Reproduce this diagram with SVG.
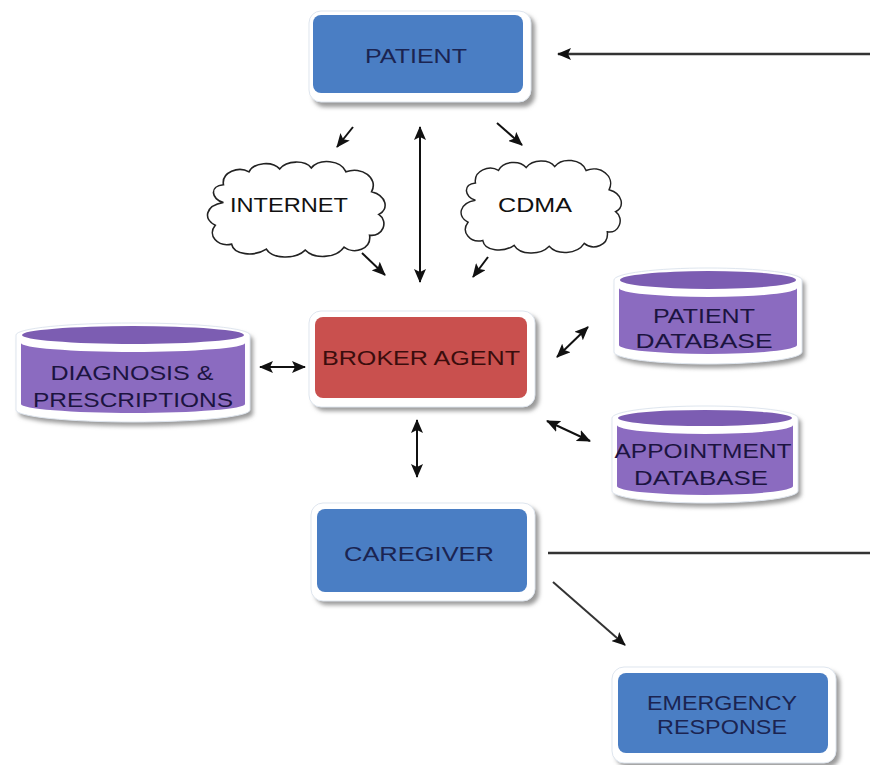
<svg xmlns="http://www.w3.org/2000/svg" width="870" height="765" viewBox="0 0 870 765">
<defs>
<style>
.sh{fill:#9a9a9a;filter:url(#blur)}
.rim{fill:#ffffff;stroke:#dfe6ef;stroke-width:1}
.blue{fill:#4a7ec4}
.red{fill:#c9504e}
.ptop{fill:#7c5db2}
.pbody{fill:#8b6bc0}
.t{font-family:"Liberation Sans",Arial,sans-serif;font-size:21px;text-anchor:middle}
.tb{fill:#1b2451}
.tr{fill:#3b0d0d}
.tp{fill:#1c1440}
.tc{fill:#111111}
.cloud{fill:#ffffff;stroke:#222;stroke-width:1.6}
.ln{stroke:#111;stroke-width:2;fill:none}
.one{marker-end:url(#ah)}
.two{marker-start:url(#ah);marker-end:url(#ah)}
</style>
<filter id="blur" x="-10%" y="-10%" width="120%" height="130%"><feGaussianBlur stdDeviation="2"/></filter>
<marker id="ah" viewBox="0 0 14 12" refX="13" refY="6" markerWidth="14" markerHeight="12" markerUnits="userSpaceOnUse" orient="auto-start-reverse">
<path d="M0,0 L14,6 L0,12 L3,6 Z" fill="#111"/>
</marker>
<path id="cloudshape" d="M20,45 C8,42 6,28 20,27 C18,14 35,8 45,14 C50,4 68,3 75,11 C82,2 100,2 106,10 C114,0 135,2 140,14 C155,8 172,20 165,34 C180,38 182,52 172,57 C182,64 176,80 163,78 C165,92 148,98 138,90 C130,102 108,102 100,93 C90,103 68,102 62,92 C50,100 30,98 28,87 C14,90 4,78 12,68 C0,62 2,48 20,45 Z"/>
</defs>
<rect width="870" height="765" fill="#ffffff"/>

<g id="connectors">
<line class="ln one" x1="870" y1="54" x2="558" y2="54" style="stroke:#333;stroke-width:2.5"/>
<line class="ln one" x1="353" y1="127" x2="337" y2="147"/>
<line class="ln one" x1="497" y1="123" x2="522" y2="145"/>
<line class="ln two" x1="420" y1="127" x2="420" y2="282"/>
<line class="ln one" x1="362" y1="253" x2="385" y2="275"/>
<line class="ln one" x1="488" y1="257" x2="473" y2="277"/>
<line class="ln two" x1="260" y1="367" x2="305" y2="367"/>
<line class="ln two" x1="557" y1="357" x2="588" y2="327"/>
<line class="ln two" x1="547" y1="421" x2="590" y2="441"/>
<line class="ln two" x1="417" y1="420" x2="417" y2="477"/>
<line class="ln" x1="548" y1="553" x2="870" y2="553" style="stroke:#333;stroke-width:2.5"/>
<line class="ln one" x1="553" y1="582" x2="625" y2="645" style="stroke:#333"/>
</g>

<g id="patient">
<rect class="sh" x="313" y="15" width="222" height="92" rx="12"/>
<rect class="rim" x="309" y="11" width="222" height="91" rx="12"/>
<rect class="blue" x="313" y="15" width="210" height="78" rx="8"/>
<text class="t tb" x="416" y="63" textLength="102" lengthAdjust="spacingAndGlyphs">PATIENT</text>
</g>

<g id="internet">
<use href="#cloudshape" class="cloud" transform="translate(203,158) scale(1.022,0.99)"/>
<text class="t tc" x="289" y="212" textLength="118" lengthAdjust="spacingAndGlyphs">INTERNET</text>
</g>

<g id="cdma">
<use href="#cloudshape" class="cloud" transform="translate(457,157) scale(0.922,0.96)"/>
<text class="t tc" x="535" y="212" textLength="74" lengthAdjust="spacingAndGlyphs">CDMA</text>
</g>

<g id="broker">
<rect class="sh" x="313" y="315" width="226" height="96" rx="12"/>
<rect class="rim" x="309" y="311" width="226" height="96" rx="12"/>
<rect class="red" x="315" y="317" width="212" height="81" rx="8"/>
<text class="t tr" x="421" y="365" textLength="198" lengthAdjust="spacingAndGlyphs">BROKER AGENT</text>
</g>

<g id="diagnosis">
<path class="sh" d="M19,339 A117,12 0 0 1 253,339 L253,414 A117,12 0 0 1 19,414 Z"/>
<path class="rim" d="M16,335 A117,12 0 0 1 250,335 L250,410 A117,12 0 0 1 16,410 Z"/>
<ellipse class="ptop" cx="133" cy="335" rx="111" ry="9"/>
<path class="pbody" d="M21,343 A112,9 0 0 0 245,343 L245,404 A112,9 0 0 1 21,404 Z"/>
<text class="t tp" x="132" y="380" textLength="163" lengthAdjust="spacingAndGlyphs">DIAGNOSIS &amp;</text>
<text class="t tp" x="133" y="407" textLength="200" lengthAdjust="spacingAndGlyphs">PRESCRIPTIONS</text>
</g>

<g id="patient-db">
<path class="sh" d="M617,284 A94,12 0 0 1 805,284 L805,356 A94,12 0 0 1 617,356 Z"/>
<path class="rim" d="M614,280 A94,12 0 0 1 802,280 L802,352 A94,12 0 0 1 614,352 Z"/>
<ellipse class="ptop" cx="708" cy="280" rx="88" ry="9"/>
<path class="pbody" d="M619,288 A89,9 0 0 0 797,288 L797,345 A89,9 0 0 1 619,345 Z"/>
<text class="t tp" x="704" y="323" textLength="102" lengthAdjust="spacingAndGlyphs">PATIENT</text>
<text class="t tp" x="704" y="348" textLength="137" lengthAdjust="spacingAndGlyphs">DATABASE</text>
</g>

<g id="appointment-db">
<path class="sh" d="M615,422 A93,12 0 0 1 801,422 L801,495 A93,12 0 0 1 615,495 Z"/>
<path class="rim" d="M612,418 A93,12 0 0 1 798,418 L798,491 A93,12 0 0 1 612,491 Z"/>
<ellipse class="ptop" cx="705" cy="418" rx="87" ry="8"/>
<path class="pbody" d="M617,425 A88,9 0 0 0 793,425 L793,486 A88,9 0 0 1 617,486 Z"/>
<text class="t tp" x="703" y="458" textLength="177" lengthAdjust="spacingAndGlyphs">APPOINTMENT</text>
<text class="t tp" x="701" y="485" textLength="134" lengthAdjust="spacingAndGlyphs">DATABASE</text>
</g>

<g id="caregiver">
<rect class="sh" x="315" y="507" width="224" height="98" rx="12"/>
<rect class="rim" x="311" y="503" width="224" height="98" rx="12"/>
<rect class="blue" x="317" y="509" width="210" height="83" rx="8"/>
<text class="t tb" x="419" y="561" textLength="150" lengthAdjust="spacingAndGlyphs">CAREGIVER</text>
</g>

<g id="emergency">
<rect class="sh" x="616" y="671" width="224" height="96" rx="12"/>
<rect class="rim" x="612" y="667" width="224" height="96" rx="12"/>
<rect class="blue" x="618" y="673" width="210" height="80" rx="8"/>
<text class="t tb" x="722" y="710" textLength="150" lengthAdjust="spacingAndGlyphs">EMERGENCY</text>
<text class="t tb" x="722" y="734" textLength="130" lengthAdjust="spacingAndGlyphs">RESPONSE</text>
</g>
</svg>
